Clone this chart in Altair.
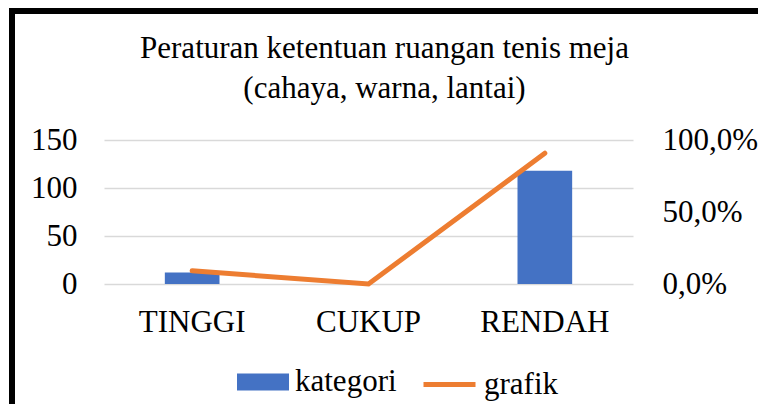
import altair as alt
import pandas as pd

categories = ["TINGGI", "CUKUP", "RENDAH"]
kategori = [12, 0, 118]
grafik = [0.092, 0.0, 0.908]

df = pd.DataFrame({"cat": categories, "kategori": kategori, "grafik": grafik})

FONT = "Liberation Serif"
BLUE = "#4472C4"
ORANGE = "#ED7D31"
FS = 31

xenc = alt.X("cat:N", sort=categories, title=None,
             scale=alt.Scale(paddingInner=0.69, paddingOuter=0.345),
             axis=alt.Axis(labelAngle=0, labelFontSize=FS, labelFont=FONT, labelColor="black",
                           ticks=False, domain=False, labelPadding=23))

legend_common = dict(title=None, orient="none", direction="horizontal",
                     labelFontSize=FS, labelFont=FONT, labelColor="black", labelOffset=6,
                     symbolSize=2704, padding=0)

bars = alt.Chart(df).transform_calculate(s1="'kategori'").mark_bar().encode(
    x=xenc,
    y=alt.Y("kategori:Q", title=None,
            scale=alt.Scale(domain=[0, 150]),
            axis=alt.Axis(values=[0, 50, 100, 150], labelFontSize=FS, labelFont=FONT,
                          labelColor="black", ticks=False, domain=False, grid=True,
                          gridColor="#d9d9d9", gridWidth=1.5, labelPadding=27)),
    fill=alt.Fill("s1:N", scale=alt.Scale(domain=["kategori"], range=[BLUE]),
                  legend=alt.Legend(legendX=133, legendY=216,
                                    symbolType="M-1,-0.33H1V0.33H-1Z",
                                    symbolStrokeWidth=0, symbolFillColor=BLUE,
                                    **legend_common)),
)

line = alt.Chart(df).transform_calculate(s2="'grafik'").mark_line(
    strokeWidth=5, strokeCap="round", strokeJoin="miter").encode(
    x=xenc,
    y=alt.Y("grafik:Q", title=None,
            scale=alt.Scale(domain=[0, 1]),
            axis=alt.Axis(orient="right", values=[0, 0.5, 1], format=".1%",
                          labelExpr="replace(datum.label, '.', ',')",
                          labelFontSize=FS, labelFont=FONT, labelColor="black",
                          ticks=False, domain=False, grid=False, labelPadding=29)),
    stroke=alt.Stroke("s2:N", scale=alt.Scale(domain=["grafik"], range=[ORANGE]),
                      legend=alt.Legend(legendX=317, legendY=216, symbolType="stroke",
                                        symbolStrokeWidth=5, symbolStrokeColor=ORANGE,
                                        **legend_common)),
)

frame = pd.DataFrame({"a": [0]})
left_edge = alt.Chart(frame).mark_rule(color="black", strokeWidth=6).encode(
    x=alt.value(-92), y=alt.value(-132), y2=alt.value(400))
top_edge = alt.Chart(frame).mark_rule(color="black", strokeWidth=6).encode(
    y=alt.value(-129), x=alt.value(-95), x2=alt.value(800))

chart = alt.layer(bars, line, left_edge, top_edge).resolve_scale(y="independent").properties(
    width=529, height=144,
    autosize=alt.AutoSizeParams(type="none"),
    padding={"left": 96, "top": 132, "right": 125, "bottom": 120},
    title=alt.TitleParams(
        text=["Peraturan ketentuan ruangan tenis meja", "(cahaya, warna, lantai)"],
        font=FONT, fontSize=31, fontWeight="normal", color="black",
        anchor="middle", lineHeight=40, dx=16, dy=131, offset=0, baseline="bottom",
    ),
).configure_view(stroke=None)

chart.save("out.html", embed_options={"renderer": "svg", "actions": False})
